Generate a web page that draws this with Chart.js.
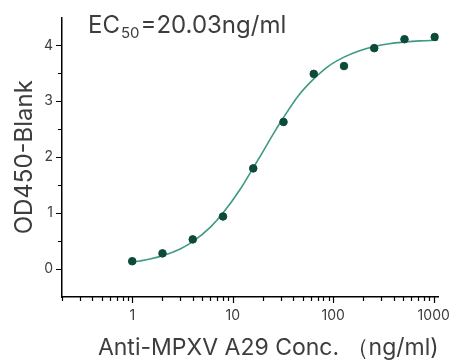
<!DOCTYPE html>
<html>
<head>
<meta charset="utf-8">
<script src="https://cdn.jsdelivr.net/npm/chart.js@4.4.1/dist/chart.umd.min.js"></script>
<style>
  html, body { margin: 0; padding: 0; background: #fff; }
  #wrap { width: 460px; height: 364px; }
</style>
</head>
<body>
<div id="wrap"><canvas id="chart" width="460" height="364"></canvas></div>
<script>
// measured points (ng/ml vs OD450-Blank)
var doseX = [1, 2, 4, 8, 16, 32, 64, 128, 256, 512, 1024];
var odY = [0.14, 0.28, 0.53, 0.94, 1.80, 2.63, 3.49, 3.63, 3.95, 4.11, 4.15];

// fitted curve
var curveX = [1, 1.5, 2, 3, 4, 6, 8, 12, 16, 20, 25, 32, 45, 64, 90, 128, 180, 256, 360, 512, 720, 1000, 1100];
var curveY = [0.12, 0.18, 0.24, 0.36, 0.49, 0.75, 1.00, 1.44, 1.81, 2.10, 2.40, 2.71, 3.10, 3.40, 3.63, 3.79, 3.90, 3.98, 4.03, 4.06, 4.08, 4.09, 4.10];

var xMajor = [1, 10, 100, 1000];
var xMinor = [0.2, 0.3, 0.4, 0.5, 0.6, 0.7, 0.8, 0.9, 2, 3, 4, 5, 6, 7, 8, 9,
              20, 30, 40, 50, 60, 70, 80, 90, 200, 300, 400, 500, 600, 700, 800, 900];
var yMajor = [0, 1, 2, 3, 4];
var yMinor = [0.5, 1.5, 2.5, 3.5];

var ec50Text = ["EC", "50", "=20.03ng/ml"];

var fontName = "Inter, 'DejaVu Sans', sans-serif";
var textColor = "#3d3d3d";

function toXY(xs, ys) {
    var out = [];
    for (var i = 0; i < xs.length; i++) {
        out.push({ x: xs[i], y: ys[i] });
    }
    return out;
}

const tickMarks = {
    id: 'tickMarks',
    afterDraw(chart) {
        const ctx = chart.ctx;
        const xs = chart.scales.x, ys = chart.scales.y;
        const area = chart.chartArea;
        ctx.save();
        ctx.strokeStyle = '#000';
        ctx.lineWidth = 1.2;
        ctx.beginPath();
        for (const v of xMajor) {
            let px = Math.round(xs.getPixelForValue(v)) + 0.5;
            ctx.moveTo(px, area.bottom); ctx.lineTo(px, area.bottom + 6);
        }
        for (const v of xMinor) {
            let px = Math.round(xs.getPixelForValue(v)) + 0.5;
            ctx.moveTo(px, area.bottom); ctx.lineTo(px, area.bottom + 4);
        }
        for (const v of yMajor) {
            let py = Math.round(ys.getPixelForValue(v)) + 0.5;
            ctx.moveTo(area.left, py); ctx.lineTo(area.left - 6, py);
        }
        for (const v of yMinor) {
            let py = Math.round(ys.getPixelForValue(v)) + 0.5;
            ctx.moveTo(area.left, py); ctx.lineTo(area.left - 4, py);
        }
        ctx.stroke();

        // EC50 label
        ctx.fillStyle = textColor;
        ctx.textBaseline = 'alphabetic';
        let x = 88, base = 33;
        ctx.font = "24px " + fontName;
        ctx.fillText(ec50Text[0], x, base);
        x += ctx.measureText(ec50Text[0]).width + 1;
        ctx.font = "15px " + fontName;
        ctx.fillText(ec50Text[1], x, base + 5);
        x += ctx.measureText(ec50Text[1]).width + 1;
        ctx.font = "24px " + fontName;
        ctx.fillText(ec50Text[2], x, base);
        ctx.restore();
    }
};

new Chart("chart", {
    type: 'scatter',
    data: {
        datasets: [
            {
                type: 'line',
                data: toXY(curveX, curveY),
                borderColor: '#3d9a84',
                borderWidth: 1.6,
                pointRadius: 0,
                fill: false,
                cubicInterpolationMode: 'monotone',
                order: 2
            },
            {
                data: toXY(doseX, odY),
                backgroundColor: '#0d4a3a',
                borderColor: '#0d4a3a',
                pointRadius: 3.8,
                order: 1
            }
        ]
    },
    options: {
        responsive: false,
        animation: false,
        layout: { padding: { left: 0, right: 15, top: 14, bottom: 0 } },
        plugins: { legend: { display: false }, tooltip: { enabled: false } },
        scales: {
            x: {
                type: 'logarithmic',
                min: 0.2,
                max: 1120,
                grid: { display: false, drawTicks: false },
                border: { display: true, color: '#000', width: 1.5 },
                afterBuildTicks: function (scale) {
                    scale.ticks = xMajor.map(function (v) { return { value: v }; });
                },
                afterFit: function (scale) { scale.height = 67; },
                ticks: {
                    padding: 10,
                    color: textColor,
                    font: { family: fontName, size: 14 },
                    callback: function (v) { return String(v); }
                },
                title: {
                    display: true,
                    text: 'Anti-MPXV A29 Conc. （ng/ml)',
                    align: 'end',
                    color: textColor,
                    font: { family: fontName, size: 23 },
                    padding: { bottom: 2 }
                }
            },
            y: {
                min: -0.5,
                max: 4.5,
                grid: { display: false, drawTicks: false },
                border: { display: true, color: '#000', width: 1.5 },
                afterBuildTicks: function (scale) {
                    scale.ticks = yMajor.map(function (v) { return { value: v }; });
                },
                afterFit: function (scale) { scale.width = 62; },
                ticks: {
                    padding: 9,
                    color: textColor,
                    font: { family: fontName, size: 14 },
                    callback: function (v) { return String(v); }
                },
                title: {
                    display: true,
                    text: 'OD450-Blank',
                    color: textColor,
                    font: { family: fontName, size: 24 },
                    padding: { top: 10 }
                }
            }
        }
    },
    plugins: [tickMarks]
});
</script>
</body>
</html>
